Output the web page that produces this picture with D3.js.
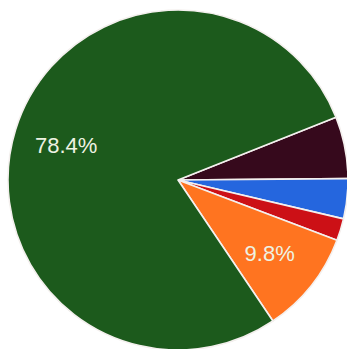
<!DOCTYPE html>
<html><head><meta charset="utf-8">
<script src="https://cdn.jsdelivr.net/npm/d3@7"></script>
<style>html,body{margin:0;padding:0;background:#fff;}svg{display:block;}</style>
</head><body>
<svg id="c" width="347" height="349"></svg>
<script>
const categories = ["A", "B", "C", "D", "E"];
const values = [5.9, 3.8, 2.1, 9.8, 78.4];
const labels = ["", "", "", "9.8%", "78.4%"];
const colors = ["#36091c", "#2566de", "#cc1016", "#ff7420", "#1c5a1c"];

const W = 347, H = 349, cx = 178, cy = 180, R = 170;
const svg = d3.select("#c");
const g = svg.append("g").attr("transform", `translate(${cx},${cy})`);
const start = 68.3 * Math.PI / 180;
const pie = d3.pie().sort(null).startAngle(start).endAngle(start + 2 * Math.PI);
const arcs = pie(values);
const arc = d3.arc().innerRadius(0).outerRadius(R);
const labelArc = d3.arc().innerRadius(117).outerRadius(117);

g.selectAll("path").data(arcs).join("path")
  .attr("d", arc)
  .attr("fill", (d, i) => colors[i])
  .attr("stroke", "#f4f0ee")
  .attr("stroke-width", 1.6)
  .attr("stroke-linejoin", "round");

g.selectAll("text").data(arcs).join("text")
  .attr("transform", d => `translate(${labelArc.centroid(d)})`)
  .attr("text-anchor", "middle")
  .attr("dy", "0.36em")
  .attr("font-family", "Liberation Sans, Arial, sans-serif")
  .attr("font-size", 22)
  .attr("fill", "#eef2e2")
  .text((d, i) => labels[i]);
</script>
</body></html>
